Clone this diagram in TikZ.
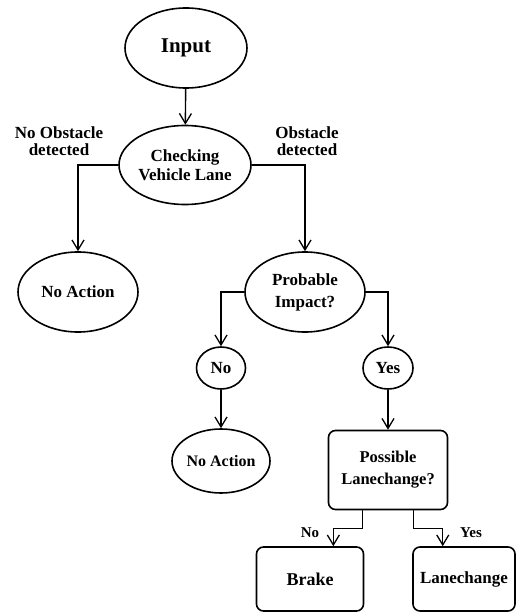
\documentclass[tikz,border=0pt]{standalone}
\usepackage{fontspec}
\setmainfont{Liberation Serif}
\usetikzlibrary{shapes.geometric,arrows.meta}

\tikzset{
  oval/.style={draw,ellipse,line width=1.6pt,inner sep=0pt,align=center,font=\bfseries\fontsize{17}{19}\selectfont},
  rbox/.style={draw,rectangle,rounded corners=7pt,line width=1.6pt,inner sep=0pt,align=center,font=\bfseries\fontsize{17}{21}\selectfont},
  arr/.style={line width=1.4pt,-{Straight Barb[length=10pt,width=12pt,line width=1.3pt]}},
  lbl/.style={align=center,font=\bfseries\fontsize{17}{17}\selectfont}
}

\begin{document}
\begin{tikzpicture}[x=1pt,y=-1pt]
    \useasboundingbox (0,0) rectangle (516,612);

    \node (A) at (186,48) [oval,minimum width=122pt,minimum height=80pt,font=\bfseries\fontsize{21}{22}\selectfont] {Input};
    \node (B) at (185,165) [oval,minimum width=122pt,minimum height=79pt] {Checking\\Vehicle Lane};
    \node (C) at (78,292) [oval,minimum width=120pt,minimum height=80pt] {No Action};
    \node (D) at (305,292) [oval,minimum width=120pt,minimum height=80pt,font=\bfseries\fontsize{17}{22}\selectfont] {Probable\\Impact?};
    \node (E) at (221,368) [oval,minimum width=49pt,minimum height=42pt] {No};
    \node (F) at (388,368) [oval,minimum width=50pt,minimum height=42pt] {Yes};
    \node (G) at (221,461) [oval,minimum width=98pt,minimum height=64pt,font=\bfseries\fontsize{16}{17}\selectfont] {No Action};
    \node (H) at (388,470) [rbox,minimum width=119pt,minimum height=79pt,font=\bfseries\fontsize{16.5}{22}\selectfont] {Possible\\Lanechange?};
    \node (I) at (310,579) [rbox,minimum width=107pt,minimum height=64pt,font=\bfseries\fontsize{18}{19}\selectfont] {Brake};
    \node (J) at (464,579) [rbox,minimum width=102pt,minimum height=64pt] {Lanechange};

    \node (l1) at (59,141) [lbl] {No Obstacle\\detected};
    \node (l2) at (307,141) [lbl] {Obstacle\\detected};
    \node (l3) at (310,533) [lbl,font=\bfseries\fontsize{15}{16}\selectfont] {No};
    \node (l4) at (471,533) [lbl,font=\bfseries\fontsize{15}{16}\selectfont] {Yes};

    \draw[arr] (A) -- (B);
    \draw[arr] (B.west) -| (C.north);
    \draw[arr] (B.east) -| (D.north);
    \draw[arr] (D.west) -| (E.north);
    \draw[arr] (D.east) -| (F.north);
    \draw[arr] (E) -- (G);
    \draw[arr] (F) -- (H);

    \path (H.south) -- (H.south west) coordinate[pos=0.42] (h00); \path (I.north) -- (I.north east) coordinate[pos=0.43] (i01); \draw[arr] (h00) -- ++(0,18) -| (i01);

    \path (H.south) -- (H.south east) coordinate[pos=0.42] (h10); \path (J.north) -- (J.north west) coordinate[pos=0.41] (j11); \draw[arr] (h10) -- ++(0,18) -| (j11);

\end{tikzpicture}
\end{document}
